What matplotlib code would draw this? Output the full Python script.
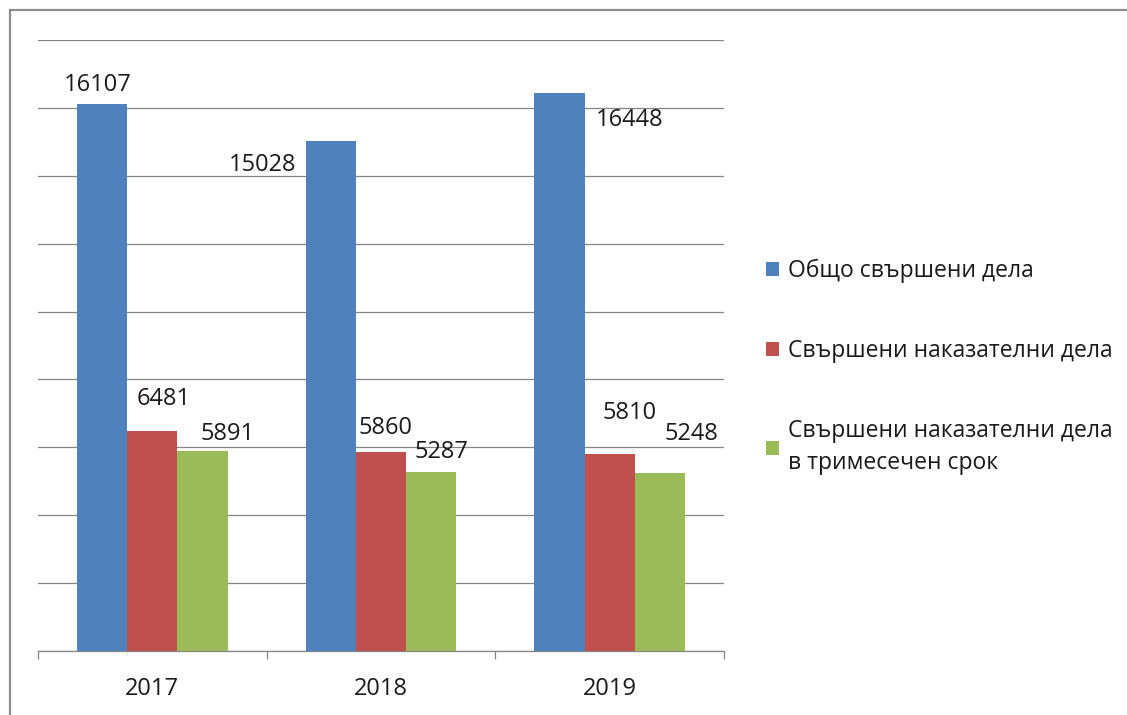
import numpy as np
import matplotlib.pyplot as plt
from matplotlib.patches import Rectangle

years = ["2017", "2018", "2019"]
series_names = ["Общо свършени дела",
                "Свършени наказателни дела",
                "Свършени наказателни дела\nв тримесечен срок"]
total = [16107, 15028, 16448]
criminal = [6481, 5860, 5810]
criminal_3m = [5891, 5287, 5248]

colors = ["#4F81BD", "#C0504D", "#9BBB59"]
# label offsets (pixels) from bar top, as placed in the original
offsets = [
    [(-4.5, 19.5), (-68, -24.5), (70.5, -27)],
    [(11, 32), (5, 24.5), (19.5, 41)],
    [(25, 17.5), (10.5, 19.5), (31, 39)],
]

plt.rcParams['font.family'] = ['Open Sans', 'DejaVu Sans']
fs = 17
grid_col = "#868686"

fig = plt.figure(figsize=(11.27, 7.15), dpi=100)
ax = fig.add_axes([38 / 1127, 1 - 651 / 715, (724 - 38) / 1127, (651 - 40) / 715])

x = np.arange(len(years))
w = 0.22
bars = []
for i, vals in enumerate([total, criminal, criminal_3m]):
    b = ax.bar(x + (i - 1) * w, vals, w, color=colors[i], zorder=3, label=series_names[i])
    bars.append(b)
    for j, rect in enumerate(b):
        dx, dy = offsets[i][j]
        ax.annotate(str(vals[j]), (rect.get_x() + rect.get_width() / 2, rect.get_height()),
                    xytext=(dx, dy), textcoords="offset pixels",
                    ha="center", va="center", fontsize=fs, color="#1a1a1a", zorder=4)

ax.set_xlim(-0.5, 2.5)
ax.set_ylim(0, 18000)
ax.set_yticks(np.arange(0, 18001, 2000))
ax.yaxis.grid(True, color=grid_col, linewidth=0.9, zorder=0)
ax.tick_params(axis="y", length=0, labelleft=False)
for s in ["top", "right", "left"]:
    ax.spines[s].set_visible(False)
ax.spines["bottom"].set_color(grid_col)
ax.spines["bottom"].set_linewidth(0.9)

ax.set_xticks(x)
ax.set_xticklabels(years, fontsize=fs, color="#1a1a1a")
ax.set_xticks([-0.5, 0.5, 1.5, 2.5], minor=True)
ax.tick_params(axis="x", which="major", length=0, pad=19)
ax.tick_params(axis="x", which="minor", length=6, color=grid_col, width=0.9)

leg = fig.legend(handles=bars, labels=series_names, loc="center left",
                 bbox_to_anchor=(766 / 1127, 1 - 367 / 715), frameon=False,
                 fontsize=16.5, handlelength=0.55, handleheight=0.55,
                 handletextpad=0.4, labelspacing=2.45, borderpad=0, borderaxespad=0)
leg.get_texts()[2].set_linespacing(1.45)
for t in leg.get_texts():
    t.set_color("#1a1a1a")

fig.patches.append(Rectangle((10 / 1127, -0.1), 1.2, 1 - 10 / 715 + 0.1,
                             transform=fig.transFigure, fill=False,
                             edgecolor="#8c8c8c", linewidth=1.6))

fig.savefig("out.png", dpi=100)
